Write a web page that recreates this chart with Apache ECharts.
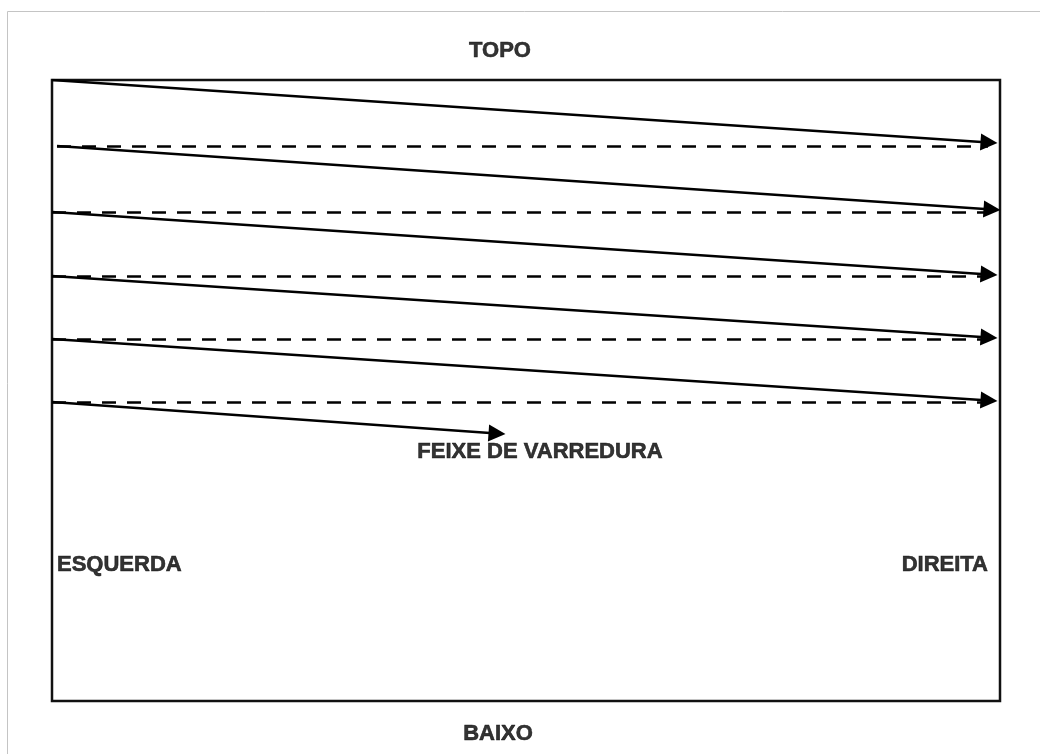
<!DOCTYPE html>
<html>
<head>
<meta charset="utf-8">
<style>
  html, body { margin: 0; padding: 0; background: #fff; }
  #chart { width: 1040px; height: 754px; }
</style>
<script src="https://cdn.jsdelivr.net/npm/echarts@6/dist/echarts.min.js"></script>
</head>
<body>
<div id="chart"></div>
<script>
// scan lines (solid, with arrow), coordinates inside the frame
var scanStart = [[0, 0], [5, 66], [0, 132], [0, 196], [0, 259], [0, 322]];
var scanEnd = [[937, 62.5], [940, 129.5], [937, 194.5], [937, 257.5], [937, 320.5], [445, 353.5]];
// retrace lines (dashed, horizontal)
var retraceY = [66, 132, 196, 259, 322];
var retraceFrom = [5, 0, 0, 0, 0];
var retraceTo = [936, 936, 936, 936, 936];
// labels
var labelNames = ['TOPO', 'BAIXO', 'ESQUERDA', 'DIREITA', 'FEIXE DE VARREDURA'];
var labelX = [448, 446, 5, 936, 488];
var labelY = [-29, 654, 485, 485, 372];
var labelAlign = ['center', 'center', 'left', 'right', 'center'];

var myChart = echarts.init(document.getElementById('chart'));

var scanData = scanStart.map(function (s, i) {
    return { coords: [s, scanEnd[i]] };
});
var retraceData = retraceY.map(function (y, i) {
    return { coords: [[retraceFrom[i], y], [retraceTo[i], y]] };
});
var labelData = labelNames.map(function (n, i) {
    return {
        name: n,
        value: [labelX[i], labelY[i]],
        label: { align: labelAlign[i] }
    };
});

var option = {
    backgroundColor: '#fff',
    animation: false,
    graphic: [{
        type: 'rect',
        shape: { x: 7.5, y: 11.5, width: 1100, height: 800 },
        style: { fill: 'none', stroke: '#c4c4c4', lineWidth: 1 },
        z: -1
    }],
    grid: {
        left: 52, right: 40, top: 80, bottom: 53,
        show: true, borderColor: '#111', borderWidth: 2.5, backgroundColor: '#fff'
    },
    xAxis: { type: 'value', min: 0, max: 948, show: false },
    yAxis: { type: 'value', min: 0, max: 621, inverse: true, show: false },
    series: [{
        type: 'lines',
        coordinateSystem: 'cartesian2d',
        symbol: 'none',
        lineStyle: { color: '#000', width: 2.5, type: [14, 11], opacity: 1 },
        data: retraceData
    }, {
        type: 'lines',
        coordinateSystem: 'cartesian2d',
        symbol: ['none', 'triangle'],
        symbolSize: 17,
        lineStyle: { color: '#000', width: 2.5, type: 'solid', opacity: 1 },
        data: scanData
    }, {
        type: 'scatter',
        symbolSize: 0,
        clip: false,
        silent: true,
        label: {
            show: true,
            position: 'inside',
            formatter: '{b}',
            color: '#000',
            textBorderColor: '#000',
            textBorderWidth: 0.6,
            fontFamily: 'Liberation Sans',
            fontWeight: 900,
            fontSize: 22,
            verticalAlign: 'middle'
        },
        data: labelData
    }]
};
myChart.setOption(option);
</script>
</body>
</html>
